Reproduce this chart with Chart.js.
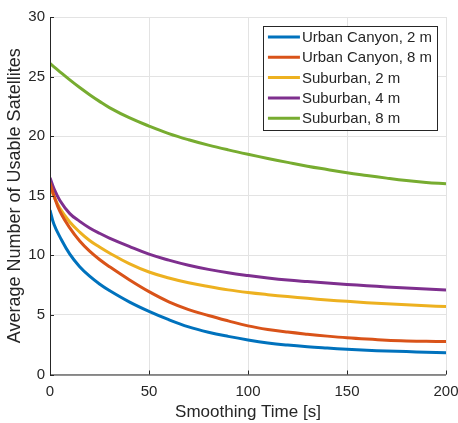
<!DOCTYPE html>
<html>
<head>
<meta charset="utf-8">
<script src="https://cdn.jsdelivr.net/npm/chart.js@4/dist/chart.umd.min.js"></script>
<style>
  html, body { margin: 0; padding: 0; background: #fff; }
  #wrap { width: 458px; height: 423px; }
</style>
</head>
<body>
<div id="wrap"><canvas id="c" width="458" height="423"></canvas></div>
<script>
// smoothing time [s]
const times = [0, 2, 5, 10, 15, 20, 25, 30, 40, 50, 60, 70, 80, 90, 100, 110, 120, 130, 140, 150, 160, 170, 180, 190, 200]

const urbanCanyon2 = [13.8, 12.6, 11.55, 10.1, 9.05, 8.25, 7.6, 7.05, 6.1, 5.3, 4.6, 4.0, 3.55, 3.2, 2.9, 2.65, 2.47, 2.33, 2.22, 2.12, 2.04, 1.97, 1.92, 1.87, 1.83]
const urbanCanyon8 = [16.1, 15.0, 13.7, 12.3, 11.2, 10.35, 9.65, 9.05, 7.95, 6.95, 6.1, 5.45, 4.95, 4.5, 4.08, 3.78, 3.56, 3.38, 3.22, 3.08, 2.97, 2.88, 2.82, 2.78, 2.76]
const suburban2 = [15.8, 14.95, 13.95, 12.8, 11.95, 11.25, 10.7, 10.2, 9.3, 8.6, 8.1, 7.7, 7.38, 7.1, 6.88, 6.7, 6.54, 6.39, 6.26, 6.14, 6.03, 5.93, 5.85, 5.77, 5.7]
const suburban4 = [16.5, 15.6, 14.6, 13.5, 12.85, 12.3, 11.85, 11.45, 10.75, 10.1, 9.6, 9.17, 8.82, 8.53, 8.3, 8.1, 7.93, 7.8, 7.68, 7.56, 7.45, 7.35, 7.26, 7.18, 7.1]
const suburban8 = [26.1, 25.82, 25.4, 24.72, 24.08, 23.48, 22.92, 22.4, 21.55, 20.85, 20.22, 19.7, 19.25, 18.85, 18.48, 18.13, 17.8, 17.48, 17.2, 16.93, 16.7, 16.48, 16.28, 16.12, 16.0]

const seriesLabels = ['Urban Canyon, 2 m', 'Urban Canyon, 8 m', 'Suburban, 2 m', 'Suburban, 4 m', 'Suburban, 8 m']
const seriesValues = [urbanCanyon2, urbanCanyon8, suburban2, suburban4, suburban8]
const seriesColors = ['#0072BD', '#D95319', '#EDB120', '#7E2F8E', '#77AC30']

const xTicks = [0, 50, 100, 150, 200]
const yTicks = [0, 5, 10, 15, 20, 25, 30]

const textColor = '#262626'
const fontFamily = 'Helvetica, Arial, "Liberation Sans", sans-serif'

const datasets = seriesValues.map((vals, i) => ({
  label: seriesLabels[i],
  data: vals.map((v, j) => ({ x: times[j], y: v })),
  borderColor: seriesColors[i],
  backgroundColor: seriesColors[i],
  borderWidth: 3,
  pointRadius: 0,
  tension: 0.4,
  fill: false
}))

// inward tick marks and dark left/bottom axis lines, like the original
const axesPlugin = {
  id: 'axesLines',
  afterDraw(chart) {
    const { ctx, chartArea: a, scales } = chart
    ctx.save()
    ctx.strokeStyle = textColor
    ctx.lineWidth = 1
    ctx.beginPath()
    ctx.moveTo(a.left + 0.5, a.top)
    ctx.lineTo(a.left + 0.5, a.bottom + 0.5)
    ctx.lineTo(a.right, a.bottom + 0.5)
    xTicks.forEach(t => {
      const px = Math.round(scales.x.getPixelForValue(t)) + 0.5
      ctx.moveTo(px, a.bottom)
      ctx.lineTo(px, a.bottom - 4)
    })
    yTicks.forEach(t => {
      const py = Math.round(scales.y.getPixelForValue(t)) + 0.5
      ctx.moveTo(a.left, py)
      ctx.lineTo(a.left + 4, py)
    })
    ctx.stroke()
    ctx.restore()
  }
}

// boxed legend inside the plot, top right
const legendPlugin = {
  id: 'boxLegend',
  afterDraw(chart) {
    const { ctx, chartArea: a } = chart
    const boxRight = a.right - 9
    const boxTop = a.top + 9
    const rowH = 20.3
    ctx.save()
    ctx.font = '15px ' + fontFamily
    const textW = Math.max(...seriesLabels.map(l => ctx.measureText(l).width))
    const boxW = 5 + 32 + 3 + textW + 4
    const boxH = rowH * seriesLabels.length + 2
    const boxLeft = boxRight - boxW
    ctx.fillStyle = '#fff'
    ctx.fillRect(boxLeft, boxTop, boxW, boxH)
    ctx.strokeStyle = textColor
    ctx.lineWidth = 1
    ctx.strokeRect(Math.round(boxLeft) + 0.5, Math.round(boxTop) + 0.5, Math.round(boxW), Math.round(boxH))
    ctx.textBaseline = 'middle'
    seriesLabels.forEach((l, i) => {
      const cy = boxTop + 11 + i * rowH
      ctx.strokeStyle = seriesColors[i]
      ctx.lineWidth = 3
      ctx.beginPath()
      ctx.moveTo(boxLeft + 5, cy)
      ctx.lineTo(boxLeft + 37, cy)
      ctx.stroke()
      ctx.fillStyle = textColor
      ctx.fillText(l, boxLeft + 39, cy + 1)
    })
    ctx.restore()
  }
}

new Chart(document.getElementById('c').getContext('2d'), {
  type: 'line',
  data: { datasets },
  options: {
    responsive: false,
    animation: false,
    layout: { padding: { top: 17, right: 12, left: 0, bottom: 0 } },
    plugins: { legend: { display: false }, tooltip: { enabled: false } },
    scales: {
      x: {
        type: 'linear',
        min: 0,
        max: 200,
        afterBuildTicks: s => { s.ticks = xTicks.map(v => ({ value: v })) },
        afterFit: s => { s.height = 48.5; s.paddingLeft = 0; s.paddingRight = 0 },
        grid: { color: '#e3e3e3', drawTicks: false },
        border: { display: false },
        ticks: { color: textColor, font: { size: 15, family: fontFamily }, padding: 8, maxRotation: 0 },
        title: { display: true, text: 'Smoothing Time [s]', color: textColor, font: { size: 17, family: fontFamily }, padding: { top: 3, bottom: 0 } }
      },
      y: {
        min: 0,
        max: 30,
        afterBuildTicks: s => { s.ticks = yTicks.map(v => ({ value: v })) },
        afterFit: s => { s.width = 50; s.paddingTop = 0; s.paddingBottom = 0 },
        grid: { color: '#e3e3e3', drawTicks: false },
        border: { display: false },
        ticks: { color: textColor, font: { size: 15, family: fontFamily }, padding: 5 },
        title: { display: true, text: 'Average Number of Usable Satellites', color: textColor, font: { size: 18, family: fontFamily }, padding: { bottom: 0 } }
      }
    }
  },
  plugins: [axesPlugin, legendPlugin]
})
</script>
</body>
</html>
